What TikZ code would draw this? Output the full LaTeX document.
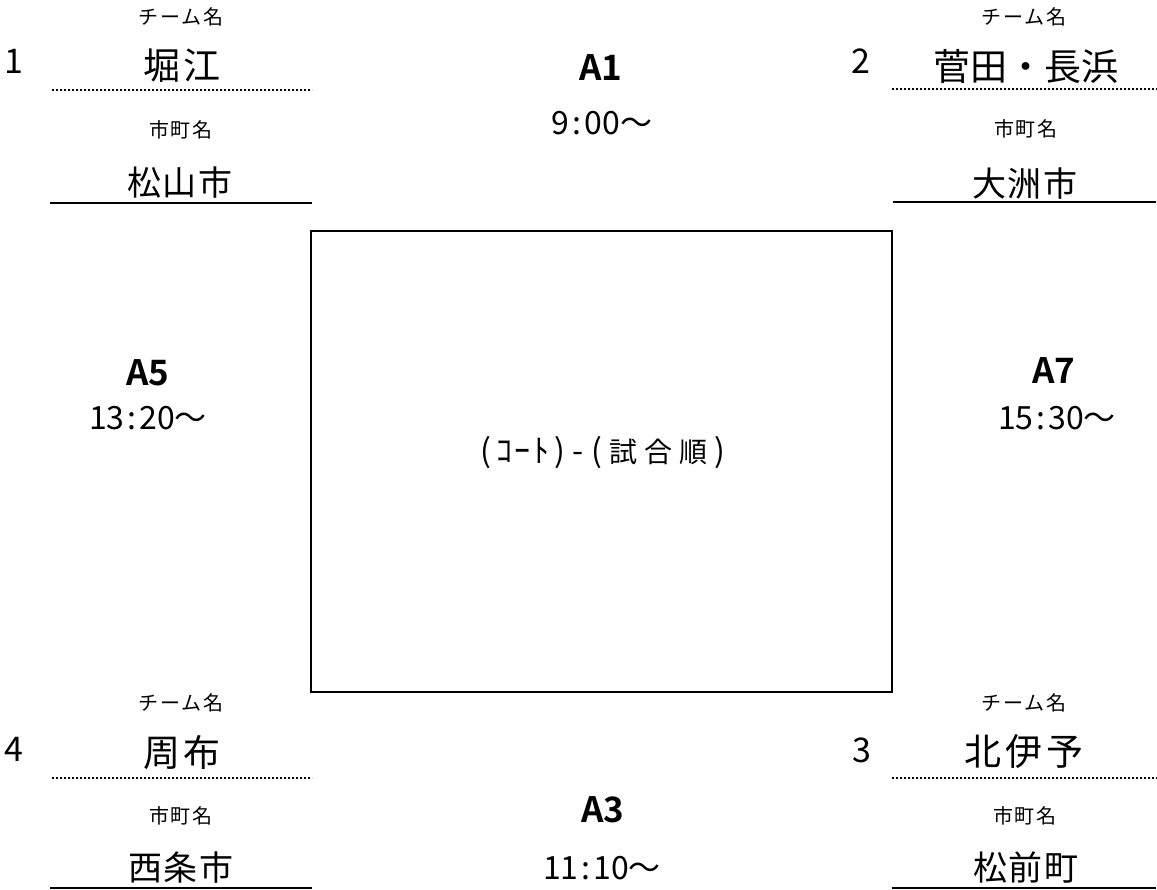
\documentclass[tikz,border=0pt]{standalone}
\usepackage{fontspec}
\setmainfont{Noto Sans CJK JP}[BoldFont={* Bold}]
\newcommand{\tcol}{\kern3pt:\kern3pt}
\newcommand{\hw}[1]{\makebox[18.5pt][c]{\fontsize{32}{34}\selectfont#1}}
\newcommand{\fw}[1]{\makebox[35pt][c]{\fontsize{28}{30}\selectfont#1}}
\begin{document}
\begin{tikzpicture}[x=1pt,y=-1pt,
  lbl/.style={inner sep=0pt,anchor=center,font=\fontsize{20}{22}\selectfont\addfontfeature{LetterSpace=8}},
  team/.style={inner sep=0pt,anchor=center,font=\fontsize{37}{40}\selectfont\addfontfeature{LetterSpace=10}},
  city/.style={inner sep=0pt,anchor=center,font=\fontsize{34}{36}\selectfont\addfontfeature{LetterSpace=4}},
  num/.style={inner sep=0pt,anchor=center,font=\fontsize{34}{36}\selectfont},
  game/.style={inner sep=0pt,anchor=center,font=\fontsize{35}{37}\selectfont\bfseries},
  time/.style={inner sep=0pt,anchor=center,font=\fontsize{32}{34}\selectfont},
  dotline/.style={line width=2pt,dash pattern=on 2pt off 2pt},
  solidline/.style={line width=2pt},
  court/.style={line width=2pt}]
\useasboundingbox (0,0) rectangle (1157,890);
% ---- top left
\node[lbl]  (tlL1) at (181,17) {チーム名};
\node[num]  (tlN)  at (14,61)  {1};
\node[team] (tlT)  at (182,66) {堀江};
\coordinate (tlDa) at (52,90); \coordinate (tlDb) at (312,90);
\draw[dotline] (tlDa) -- (tlDb);
\node[lbl]  (tlL2) at (181,130) {市町名};
\node[city] (tlC)  at (180,183) {松山市};
\coordinate (tlSa) at (50,203); \coordinate (tlSb) at (312,203);
\draw[solidline] (tlSa) -- (tlSb);
% ---- top right
\node[lbl]  (trL1) at (1024,17) {チーム名};
\node[num]  (trN)  at (861,61)  {2};
\node[team,font=\fontsize{37}{40}\selectfont] (trT)  at (1026,66) {菅田・長浜};
\coordinate (trDa) at (892,89); \coordinate (trDb) at (1157,89);
\draw[dotline] (trDa) -- (trDb);
\node[lbl]  (trL2) at (1026,129) {市町名};
\node[city] (trC)  at (1025,184) {大洲市};
\coordinate (trSa) at (893,202); \coordinate (trSb) at (1156,202);
\draw[solidline] (trSa) -- (trSb);
% ---- bottom left
\node[lbl]  (blL1) at (181,703) {チーム名};
\node[num]  (blN)  at (14,749)  {4};
\node[team] (blT)  at (182,753) {周布};
\coordinate (blDa) at (52,778); \coordinate (blDb) at (312,778);
\draw[dotline] (blDa) -- (blDb);
\node[lbl]  (blL2) at (181,816) {市町名};
\node[city] (blC)  at (181,868) {西条市};
\coordinate (blSa) at (50,888); \coordinate (blSb) at (312,888);
\draw[solidline] (blSa) -- (blSb);
% ---- bottom right
\node[lbl]  (brL1) at (1024,703) {チーム名};
\node[num]  (brN)  at (862,750)  {3};
\node[team] (brT)  at (1024,752) {北伊予};
\coordinate (brDa) at (892,778); \coordinate (brDb) at (1157,778);
\draw[dotline] (brDa) -- (brDb);
\node[lbl]  (brL2) at (1025,816) {市町名};
\node[city] (brC)  at (1026,868) {松前町};
\coordinate (brSa) at (892,888); \coordinate (brSb) at (1156,888);
\draw[solidline] (brSa) -- (brSb);
% ---- games
\node[game] (g1) at (601,68)  {A1};
\node[time] (t1) at (602,123) {9\tcol00〜};
\node[game] (g3) at (603,810) {A3};
\node[time] (t3) at (602,868) {11\tcol10〜};
\node[game] (g5) at (148,373) {A5};
\node[time] (t5) at (148,418) {13\tcol20〜};
\node[game] (g7) at (1054,371) {A7};
\node[time] (t7) at (1057,418) {15\tcol30〜};
% ---- court
\coordinate (cA) at (311,231); \coordinate (cB) at (892,692);
\draw[court] (cA) rectangle (cB);
\node[inner sep=0pt,anchor=center] (ct) at (603,453) {\hw{(}\hw{ｺ}\hw{ｰ}\hw{ﾄ}\hw{)}\hw{-}\hw{(}\fw{試}\fw{合}\fw{順}\hw{)}};
\end{tikzpicture}
\end{document}
